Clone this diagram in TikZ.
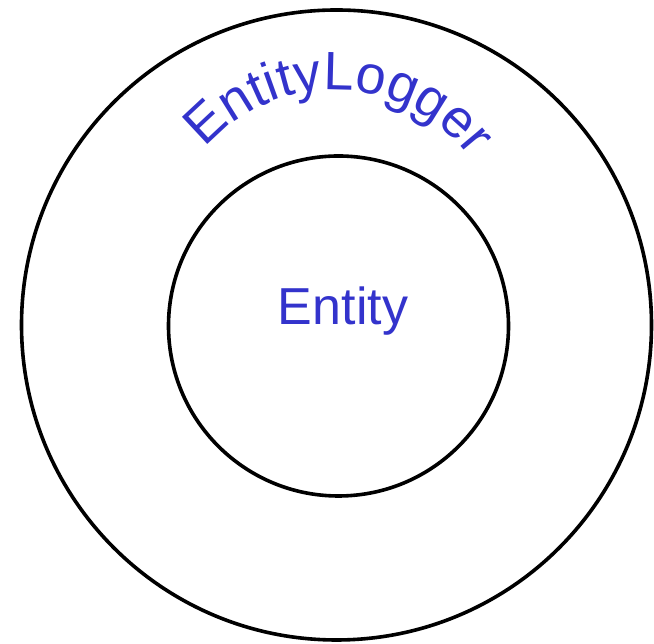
\documentclass[tikz,border=0pt]{standalone}
\usepackage{fontspec}
\setmainfont{Liberation Sans}
\usetikzlibrary{decorations.text}
\definecolor{labelblue}{HTML}{3333CC}
\newfontfamily\labelfont{Liberation Sans}
\tikzset{
  ring/.style={draw=black, line width=3.6pt, circle, inner sep=0pt},
  lbl/.style={text=labelblue, font=\labelfont\fontsize{52}{60}\selectfont}
}
\begin{document}
\begin{tikzpicture}[x=1pt,y=1pt]
  \useasboundingbox (0,0) rectangle (654,644);
  % outer and inner rings
  \node[ring, minimum size=630pt] (outer) at (336.5,319) {};
  \node[ring, minimum size=340pt] (inner) at (338.5,318) {};
  % inner label
  \node[lbl, anchor=base] (entity) at (343,319) {Entity};
  % outer label bent along an arc
  \coordinate (arcc) at (334,384);
  \path[decorate, decoration={text along path, text align=center,
      text={|\color{labelblue}\labelfont\fontsize{54}{60}\selectfont|EntityLogger}}]
    (arcc) ++(178:170) arc[start angle=178, end angle=-2, radius=170];
\end{tikzpicture}
\end{document}
